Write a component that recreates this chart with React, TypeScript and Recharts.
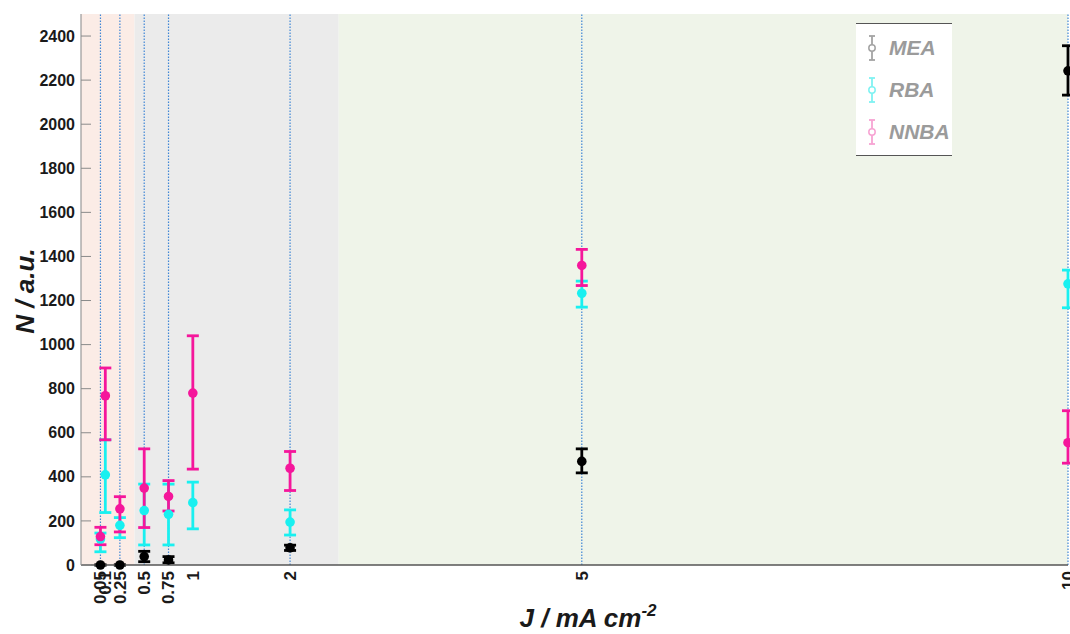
import React from 'react';
import {
  ScatterChart, Scatter, XAxis, YAxis, ErrorBar, ReferenceArea, ReferenceLine, Legend,
} from 'recharts';

// Current densities (x positions)
const xTicks = [0.05, 0.1, 0.25, 0.5, 0.75, 1, 2, 5, 10];
const yTicks = [0, 200, 400, 600, 800, 1000, 1200, 1400, 1600, 1800, 2000, 2200, 2400];
const guideLines = [0.05, 0.25, 0.5, 0.75, 2, 5, 10];

// MEA series
const meaX = [0.05, 0.25, 0.5, 0.75, 2, 5, 10];
const meaY = [0, 0, 38, 23, 78, 470, 2242];
const meaLo = [0, 0, 15, 10, 66, 418, 2132];
const meaHi = [0, 0, 62, 38, 90, 527, 2356];

// RBA series
const rbaX = [0.05, 0.1, 0.25, 0.5, 0.75, 1, 2, 5, 10];
const rbaY = [118, 409, 180, 247, 230, 283, 195, 1233, 1276];
const rbaLo = [60, 238, 124, 91, 91, 164, 136, 1170, 1167];
const rbaHi = [145, 568, 215, 367, 367, 376, 250, 1288, 1338];

// NNBA series
const nnbaX = [0.05, 0.1, 0.25, 0.5, 0.75, 1, 2, 5, 10];
const nnbaY = [129, 768, 255, 349, 311, 780, 439, 1359, 555];
const nnbaLo = [92, 568, 150, 170, 245, 435, 338, 1268, 462];
const nnbaHi = [171, 894, 310, 527, 383, 1040, 515, 1432, 700];

const build = (xs: number[], ys: number[], lo: number[], hi: number[]) =>
  xs.map((x, i) => ({ x, y: ys[i], err: [ys[i] - lo[i], hi[i] - ys[i]] }));

const meaData = build(meaX, meaY, meaLo, meaHi);
const rbaData = build(rbaX, rbaY, rbaLo, rbaHi);
const nnbaData = build(nnbaX, nnbaY, nnbaLo, nnbaHi);

const C_MEA = '#000000';
const C_RBA = '#19f0f0';
const C_NNBA = '#f5169b';

const FONT = '"Liberation Sans", Arial, sans-serif';

const YTick = (props: any) => {
  const { x, y, payload } = props;
  return (
    <g>
      <line x1={x + 6} x2={x + 16} y1={y} y2={y} stroke="#8a8a8a" strokeWidth={1} />
      <text x={x} y={y} dy="0.35em" textAnchor="end" fontFamily={FONT} fontWeight="bold" fontSize={16} fill="#1a1a1a">
        {payload.value}
      </text>
    </g>
  );
};

const XTick = (props: any) => {
  const { x, y, payload } = props;
  return (
    <text x={x} y={y} dy="0.35em" textAnchor="end" transform={`rotate(-90, ${x}, ${y})`}
      fontFamily={FONT} fontWeight="bold" fontSize={17} fill="#1a1a1a">
      {payload.value}
    </text>
  );
};

const dot = (color: string) => (p: any) => (
  <circle cx={p.cx} cy={p.cy} r={4.8} fill={color} stroke="none" />
);

const legendItems = [
  { name: 'MEA', color: '#a3a3a3' },
  { name: 'RBA', color: '#7ff2f2' },
  { name: 'NNBA', color: '#f7a3d3' },
];

const LegendBox = () => (
  <div style={{
    width: 96, height: 133, background: '#ffffff', borderTop: '1.5px solid #555',
    borderBottom: '1.5px solid #555', boxSizing: 'border-box', paddingTop: 3,
  }}>
    {legendItems.map((it) => (
      <div key={it.name} style={{ display: 'flex', alignItems: 'center', height: 42 }}>
        <svg width={30} height={30} style={{ marginLeft: 1 }}>
          <line x1={15} x2={15} y1={3} y2={27} stroke={it.color} strokeWidth={1.8} />
          <line x1={12} x2={18} y1={3} y2={3} stroke={it.color} strokeWidth={1.8} />
          <line x1={12} x2={18} y1={27} y2={27} stroke={it.color} strokeWidth={1.8} />
          <circle cx={15} cy={15} r={3.2} fill="#fff" stroke={it.color} strokeWidth={1.5} />
        </svg>
        <span style={{
          fontFamily: FONT, fontWeight: 'bold', fontStyle: 'italic', fontSize: 21, color: '#9b9b9b', marginLeft: 2,
        }}>{it.name}</span>
      </div>
    ))}
  </div>
);

const XLabel = () => (
  <text x={588} y={627} textAnchor="middle" fontFamily={FONT} fontWeight="bold" fontStyle="italic" fontSize={26} fill="#1a1a1a">
    J / mA cm<tspan fontSize={17} dy={-11}>-2</tspan>
  </text>
);

const YLabel = () => (
  <text x={34} y={291} textAnchor="middle" transform="rotate(-90, 34, 291)" fontFamily={FONT} fontWeight="bold" fontStyle="italic" fontSize={26} fill="#1a1a1a">
    N / a.u.
  </text>
);

export default function App() {
  return (
    <div style={{ position: 'absolute', left: 0, top: 0, width: 1070, height: 634, background: '#fff' }}>
      <ScatterChart width={1070} height={634} margin={{ top: 14, right: 2, bottom: 0, left: 0 }}>
        <ReferenceArea x1={-0.15} x2={0.4} y1={0} y2={2500} fill="#fbece6" fillOpacity={1} stroke="none" ifOverflow="visible" />
        <ReferenceArea x1={0.4} x2={2.5} y1={0} y2={2500} fill="#ebebeb" fillOpacity={1} stroke="none" ifOverflow="visible" />
        <ReferenceArea x1={2.5} x2={10} y1={0} y2={2500} fill="#eff4e9" fillOpacity={1} stroke="none" ifOverflow="visible" />
        {guideLines.map((g) => (
          <ReferenceLine key={g} x={g} stroke="#3f86d6" strokeWidth={1.2} strokeDasharray="1.5 1.5" ifOverflow="visible" />
        ))}
        <XAxis type="number" dataKey="x" domain={[-0.15, 10]} ticks={xTicks} interval={0} height={69}
          tickSize={0} tickMargin={6} tickLine={false} tick={<XTick />}
          axisLine={{ stroke: '#555', strokeWidth: 1.5 }} label={<XLabel />} />
        <YAxis type="number" dataKey="y" domain={[0, 2500]} ticks={yTicks} interval={0} width={81}
          tickSize={0} tickMargin={6} tickLine={false} tick={<YTick />}
          axisLine={{ stroke: '#999', strokeWidth: 1.2 }} label={<YLabel />} />
        <Scatter name="MEA" data={meaData} fill={C_MEA} shape={dot(C_MEA)} isAnimationActive={false}>
          <ErrorBar dataKey="err" direction="y" width={6} stroke={C_MEA} strokeWidth={2.8} isAnimationActive={false} />
        </Scatter>
        <Scatter name="RBA" data={rbaData} fill={C_RBA} shape={dot(C_RBA)} isAnimationActive={false}>
          <ErrorBar dataKey="err" direction="y" width={6} stroke={C_RBA} strokeWidth={2.8} isAnimationActive={false} />
        </Scatter>
        <Scatter name="NNBA" data={nnbaData} fill={C_NNBA} shape={dot(C_NNBA)} isAnimationActive={false}>
          <ErrorBar dataKey="err" direction="y" width={6} stroke={C_NNBA} strokeWidth={2.8} isAnimationActive={false} />
        </Scatter>
        <Legend layout="horizontal" verticalAlign="middle" align="center" content={<LegendBox />}
          wrapperStyle={{ position: 'absolute', left: 856, top: 23, width: 96, height: 133, margin: 0 }} />
      </ScatterChart>
    </div>
  );
}
